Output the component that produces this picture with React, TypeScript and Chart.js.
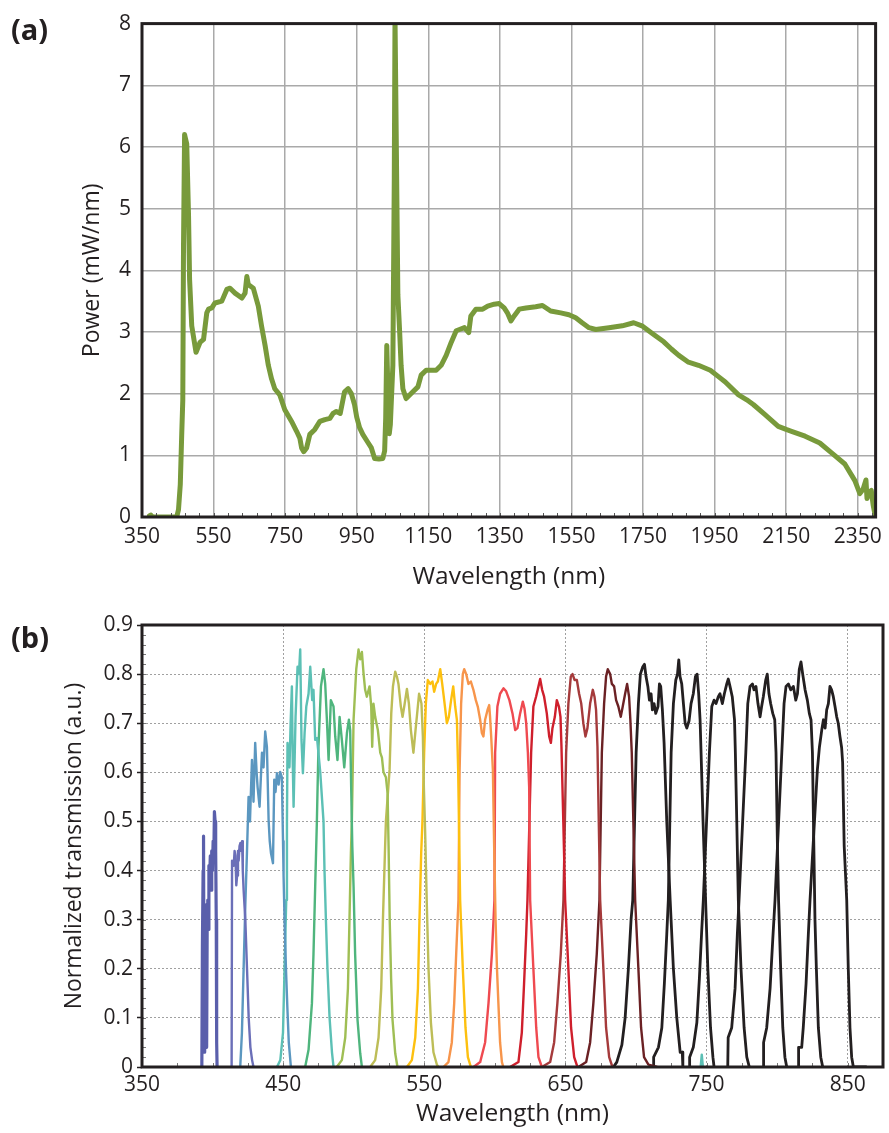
import React, { useEffect, useRef } from 'react';
import { Chart, registerables } from 'chart.js';

Chart.register(...registerables);

const FONT = '"Open Sans", Lato, sans-serif';
const INK = '#231f20';

// ---------------- Panel (a): power spectrum ----------------
const powerWavelengthNm = [
  371, 375, 380, 400, 430, 447, 452, 457, 461, 464, 466, 469, 471, 475, 480, 483, 489, 501, 512, 522,
  531, 536, 545, 554, 573, 587, 596, 610, 629, 638, 643, 647, 661, 675, 684, 694, 703, 712, 721, 735,
  749, 768, 782, 791, 796, 802, 810, 819, 833, 847, 861, 875, 884, 893, 904, 916, 926, 935, 944, 950,
  958, 967, 980, 991, 1000, 1012, 1023, 1028, 1031, 1034, 1037, 1041, 1044, 1051, 1055, 1057, 1059, 1065,
  1070, 1074, 1079, 1088, 1107, 1121, 1130, 1144, 1172, 1186, 1200, 1214, 1228, 1237, 1251, 1263, 1269,
  1283, 1302, 1316, 1334, 1348, 1362, 1371, 1381, 1390, 1404, 1423, 1450, 1469, 1492, 1520, 1543, 1562,
  1580, 1599, 1618, 1655, 1692, 1724, 1747, 1775, 1808, 1830, 1850, 1877, 1905, 1938, 1960, 1980, 2017,
  2040, 2059, 2091, 2128, 2150, 2165, 2203, 2244, 2277, 2314, 2342, 2356, 2365, 2373, 2376, 2381, 2388,
  2393, 2398,
];
const powerMwPerNm = [
  0.02, 0.03, 0.0, 0.0, 0.0, 0.0, 0.12, 0.53, 1.34, 1.9, 4.4, 6.2, 6.15, 6.05, 4.9, 3.85, 3.1, 2.67, 2.83, 2.88,
  3.31, 3.37, 3.39, 3.47, 3.5, 3.69, 3.71, 3.63, 3.55, 3.63, 3.9, 3.77, 3.71, 3.42, 3.1, 2.78, 2.46, 2.24, 2.08, 1.98,
  1.74, 1.55, 1.39, 1.28, 1.12, 1.06, 1.12, 1.34, 1.42, 1.55, 1.58, 1.6, 1.68, 1.71, 1.68, 2.03, 2.08, 2.0, 1.82, 1.62,
  1.45, 1.34, 1.22, 1.12, 0.95, 0.94, 0.95, 1.07, 1.6, 2.78, 2.1, 1.35, 1.5, 2.46, 5.5, 8.1, 8.1, 3.6,
  3.0, 2.46, 2.08, 1.92, 2.03, 2.11, 2.3, 2.38, 2.38, 2.46, 2.62, 2.83, 3.02, 3.04, 3.07, 2.99, 3.26,
  3.37, 3.37, 3.42, 3.45, 3.46, 3.39, 3.31, 3.18, 3.26, 3.37, 3.39, 3.41, 3.43, 3.34, 3.31, 3.28, 3.23,
  3.15, 3.07, 3.04, 3.07, 3.1, 3.15, 3.1, 2.98, 2.84, 2.72, 2.62, 2.51, 2.46, 2.38, 2.28, 2.19, 1.98,
  1.9, 1.82, 1.66, 1.47, 1.42, 1.39, 1.31, 1.2, 1.04, 0.86, 0.59, 0.38, 0.45, 0.6, 0.3, 0.4, 0.43,
  0.2, 0.05,
];
const powerTicksNm = [350, 550, 750, 950, 1150, 1350, 1550, 1750, 1950, 2150, 2350];
const powerTicksY = [0, 1, 2, 3, 4, 5, 6, 7, 8];

// ---------------- Panel (b): filter transmissions ----------------
const filter01 = [[392.4,0],[392.8,0.25],[393.3,0.4],[393.6,0.47],[394.0,0.03],[394.4,0.32],[394.9,0.22],[395.4,0.33],[395.8,0.04],[396.2,0.3],[396.6,0.34],[396.9,0.28],[397.4,0.41],[397.9,0.38],[398.4,0.43],[398.9,0.36],[399.4,0.44],[399.9,0.4],[400.4,0.46],[400.9,0.43],[401.3,0.52],[401.8,0.5],[402.2,0.44],[402.6,0.3],[402.9,0.05],[403.2,0]];
const filter02 = [[413.5,0],[413.8,0.42],[415.0,0.41],[415.6,0.44],[416.2,0.43],[416.8,0.37],[417.4,0.39],[418.0,0.44],[418.5,0.42],[419.1,0.45],[419.7,0.456],[420.3,0.44],[420.9,0.46],[421.4,0.4],[422.0,0.36],[423.2,0.3],[424.4,0.2],[425.6,0.1],[426.8,0.04],[428.0,0.014],[429.0,0]];
const filter03 = [[419.6,0],[420.8,0.07],[422.0,0.2],[423.2,0.33],[424.4,0.44],[425.5,0.55],[426.5,0.5],[427.9,0.625],[429.0,0.54],[430.2,0.66],[431.2,0.6],[431.9,0.57],[433.3,0.53],[435.0,0.64],[436.1,0.61],[437.3,0.683],[438.5,0.652],[439.7,0.503],[440.5,0.46],[441.4,0.435],[442.8,0.415],[443.7,0.585],[444.6,0.56],[445.6,0.598],[446.8,0.575],[447.9,0.601],[449.1,0.59],[449.9,0.46],[450.3,0.39],[451.0,0.3],[452.0,0.2],[453.0,0.12],[454.0,0.05],[455.5,0]];
const filter04 = [[445.6,0],[448.0,0.014],[449.9,0.07],[451.0,0.2],[452.2,0.34],[452.7,0.5],[453.1,0.66],[454.5,0.61],[455.3,0.7],[456.2,0.775],[456.8,0.62],[457.4,0.53],[458.8,0.713],[460.2,0.815],[461.2,0.8],[462.1,0.85],[463.0,0.666],[464.0,0.598],[465.2,0.68],[466.4,0.734],[468.0,0.76],[469.2,0.815],[470.6,0.747],[471.5,0.768],[472.7,0.666],[474.0,0.67],[476.3,0.6],[478.6,0.5],[479.3,0.4],[480.3,0.3],[481.4,0.2],[482.9,0.1],[484.6,0.03],[485.7,0]];
const filter04Blip = [[745.8,0],[746.6,0.025],[747.4,0]];
const filter05 = [[465.6,0],[468.0,0.035],[470.4,0.13],[471.5,0.23],[472.7,0.367],[473.9,0.5],[475.0,0.65],[476.8,0.775],[478.6,0.81],[479.8,0.78],[481.0,0.707],[482.2,0.625],[483.8,0.747],[485.7,0.734],[486.9,0.673],[488.5,0.625],[490.0,0.713],[491.6,0.666],[493.3,0.61],[495.2,0.68],[496.6,0.707],[497.5,0.686],[498.2,0.57],[499.0,0.45],[499.9,0.367],[501.0,0.23],[502.7,0.096],[504.6,0.028],[505.8,0]];
const filter06 = [[488.0,0],[491.6,0.014],[494.0,0.06],[495.9,0.16],[497.0,0.3],[498.0,0.435],[498.7,0.5],[499.9,0.707],[501.8,0.81],[503.4,0.85],[504.6,0.83],[505.8,0.845],[507.0,0.8],[508.1,0.768],[509.3,0.754],[511.2,0.775],[512.4,0.734],[513.1,0.652],[514.0,0.74],[515.2,0.713],[517.1,0.686],[518.8,0.64],[520.0,0.63],[521.1,0.6],[522.8,0.59],[524.0,0.557],[524.7,0.45],[525.5,0.3],[526.5,0.18],[527.5,0.096],[529.4,0.028],[531.0,0]];
const filter07 = [[511.7,0],[515.2,0.014],[517.6,0.06],[519.5,0.16],[520.7,0.3],[522.1,0.435],[522.8,0.5],[525.4,0.605],[526.6,0.72],[527.8,0.775],[529.4,0.805],[530.6,0.795],[531.7,0.78],[533.4,0.734],[534.6,0.713],[535.8,0.734],[537.7,0.77],[539.1,0.74],[540.5,0.686],[542.3,0.64],[543.8,0.686],[545.2,0.727],[546.3,0.76],[548.0,0.74],[549.0,0.673],[549.7,0.57],[550.6,0.48],[551.8,0.33],[553.0,0.2],[554.7,0.09],[556.5,0.03],[558.9,0.005],[560.0,0]];
const filter08 = [[537.7,0],[541.2,0.014],[543.6,0.06],[545.5,0.16],[546.6,0.3],[547.8,0.435],[548.7,0.5],[549.9,0.64],[551.1,0.74],[552.5,0.788],[554.2,0.78],[555.8,0.785],[557.0,0.764],[558.4,0.78],[559.6,0.785],[561.3,0.81],[562.7,0.78],[564.1,0.747],[566.0,0.7],[567.4,0.713],[569.0,0.747],[570.5,0.775],[571.9,0.734],[573.1,0.707],[574.0,0.605],[575.4,0.34],[577.3,0.2],[579.2,0.08],[580.9,0.02],[583.0,0]];
const filter09 = [[563.6,0],[567.1,0.01],[569.5,0.05],[571.2,0.13],[572.6,0.23],[574.2,0.34],[575.0,0.6],[576.1,0.74],[577.3,0.8],[578.3,0.81],[579.7,0.8],[581.3,0.78],[583.0,0.785],[584.8,0.768],[586.5,0.747],[587.9,0.734],[589.6,0.707],[590.8,0.68],[591.9,0.673],[593.1,0.707],[594.8,0.727],[596.0,0.737],[596.6,0.713],[597.4,0.673],[598.6,0.605],[599.5,0.45],[600.5,0.3],[601.5,0.2],[602.5,0.13],[603.7,0.05],[605.0,0.01],[606.0,0]];
const filter10 = [[584.9,0],[589.6,0.01],[593.1,0.05],[595.5,0.13],[597.9,0.23],[599.7,0.34],[600.2,0.64],[601.8,0.734],[603.7,0.76],[606.1,0.771],[608.0,0.765],[610.3,0.747],[612.5,0.72],[614.4,0.686],[616.0,0.69],[617.9,0.72],[619.8,0.744],[621.0,0.73],[622.2,0.7],[623.4,0.64],[624.3,0.57],[625.0,0.34],[627.3,0.2],[629.3,0.08],[630.9,0.02],[633.3,0]];
const filter11 = [[610.8,0],[616.7,0.01],[619.1,0.07],[620.7,0.17],[622.2,0.27],[623.1,0.34],[625.7,0.64],[627.3,0.734],[629.2,0.754],[630.9,0.775],[632.1,0.79],[633.5,0.768],[634.9,0.754],[636.8,0.72],[638.5,0.673],[639.7,0.66],[640.8,0.69],[642.5,0.713],[643.9,0.747],[645.4,0.734],[646.5,0.713],[647.2,0.652],[648.5,0.5],[649.8,0.34],[652.1,0.2],[654.0,0.08],[656.2,0.02],[658.5,0]];
const filter12 = [[633.3,0],[639.2,0.01],[642.0,0.05],[644.3,0.13],[646.7,0.23],[648.6,0.34],[650.5,0.64],[652.1,0.74],[653.8,0.795],[655.0,0.8],[656.5,0.788],[658.1,0.788],[659.7,0.76],[661.2,0.74],[662.7,0.7],[664.2,0.673],[665.6,0.69],[667.5,0.74],[669.4,0.768],[670.6,0.754],[671.7,0.727],[672.7,0.652],[674.6,0.34],[676.9,0.2],[678.8,0.08],[681.0,0.02],[683.3,0]];
const filter13 = [[659.2,0],[664.7,0.01],[667.5,0.05],[669.8,0.13],[672.2,0.23],[674.1,0.34],[675.8,0.64],[677.4,0.74],[678.8,0.795],[680.0,0.81],[681.7,0.8],[682.9,0.78],[684.5,0.775],[685.9,0.747],[687.5,0.734],[689.2,0.713],[690.6,0.734],[692.3,0.76],[693.7,0.78],[695.1,0.754],[696.0,0.707],[697.0,0.64],[699.4,0.34],[701.7,0.2],[703.6,0.08],[705.7,0.02],[708.8,0.005],[715.0,0]];
const filter14 = [[684.0,0],[686.4,0.01],[690.0,0.045],[692.3,0.1],[694.6,0.2],[696.5,0.3],[697.7,0.34],[700.1,0.64],[701.7,0.74],[703.1,0.8],[704.8,0.815],[706.0,0.82],[707.1,0.795],[708.4,0.775],[709.5,0.747],[710.7,0.76],[711.6,0.727],[712.8,0.74],[714.0,0.72],[715.6,0.734],[716.6,0.78],[717.5,0.775],[718.7,0.727],[719.9,0.66],[721.8,0.5],[724.2,0.34],[726.5,0.2],[728.9,0.1],[731.3,0.03],[732.8,0.03],[733.2,0]];
const filter15 = [[712.3,0],[712.5,0.02],[715.9,0.04],[718.3,0.08],[720.1,0.17],[721.8,0.27],[722.9,0.34],[724.9,0.64],[726.5,0.74],[728.2,0.788],[729.4,0.8],[730.3,0.829],[731.2,0.795],[732.4,0.78],[733.6,0.74],[734.8,0.7],[736.0,0.69],[737.6,0.705],[739.0,0.74],[740.6,0.76],[742.1,0.795],[743.3,0.8],[744.4,0.76],[745.4,0.707],[746.1,0.64],[747.5,0.5],[749.3,0.34],[750.9,0.2],[752.8,0.08],[754.5,0.02],[755.3,0]];
const filter16 = [[737.8,0],[738.0,0.02],[740.6,0.04],[743.1,0.09],[744.9,0.18],[746.6,0.28],[747.7,0.34],[752.0,0.64],[753.7,0.734],[755.3,0.747],[756.7,0.74],[758.3,0.754],[759.5,0.76],[761.2,0.74],[762.6,0.76],[764.3,0.78],[765.4,0.79],[766.6,0.775],[768.2,0.754],[769.8,0.707],[770.4,0.64],[771.4,0.5],[772.5,0.34],[774.4,0.2],[776.6,0.08],[778.5,0.02],[780.3,0]];
const filter17 = [[765.0,0],[765.3,0.06],[767.8,0.08],[770.2,0.16],[771.8,0.27],[773.0,0.34],[777.8,0.64],[779.2,0.74],[780.8,0.775],[782.5,0.78],[783.6,0.768],[785.0,0.775],[786.4,0.74],[787.9,0.713],[789.0,0.734],[790.2,0.754],[791.9,0.788],[793.0,0.8],[794.2,0.76],[795.4,0.74],[796.9,0.72],[798.3,0.707],[799.2,0.64],[800.2,0.45],[801.0,0.34],[802.5,0.2],[804.0,0.08],[805.5,0.02],[806.8,0]];
const filter18 = [[790.2,0],[790.4,0.05],[792.6,0.08],[795.0,0.16],[796.9,0.26],[798.5,0.34],[803.3,0.64],[804.9,0.74],[806.3,0.775],[808.0,0.78],[809.6,0.768],[811.5,0.775],[813.2,0.747],[814.4,0.76],[815.7,0.81],[816.9,0.825],[818.1,0.8],[819.8,0.768],[821.4,0.747],[822.8,0.72],[824.0,0.707],[825.0,0.64],[826.0,0.45],[826.8,0.3],[827.8,0.2],[829.2,0.08],[830.9,0.02],[832.3,0]];
const filter19 = [[815.0,0],[815.2,0.04],[817.4,0.04],[818.5,0.08],[820.5,0.17],[822.1,0.27],[823.3,0.34],[828.5,0.605],[829.9,0.65],[831.6,0.686],[832.8,0.707],[834.0,0.69],[835.1,0.727],[836.3,0.74],[837.4,0.775],[838.6,0.768],[839.8,0.754],[841.0,0.734],[842.2,0.713],[843.3,0.7],[844.5,0.673],[845.7,0.65],[846.4,0.62],[847.5,0.45],[849.3,0.34],[850.4,0.2],[851.6,0.08],[852.8,0.02],[854.0,0],[863.5,0]];

const filterSeries = [
  filter01, filter02, filter03, filter04, filter05, filter06, filter07, filter08, filter09, filter10,
  filter11, filter12, filter13, filter14, filter15, filter16, filter17, filter18, filter19, filter04Blip,
];
const filterColors = [
  '#5a5fab', '#6b6fb8', '#5b97c0', '#5cc0b5', '#4fb57d', '#9fbe54', '#bdbd57', '#fdc00f', '#f7954b', '#ef4a50',
  '#cf1f2c', '#a53a3b', '#6b2124', '#231f20', '#231f20', '#231f20', '#231f20', '#231f20', '#231f20', '#5cc0b5',
];
const filterWidths = [3.2, 2.4, 2.4, 2.4, 2.4, 2.4, 2.4, 2.4, 2.4, 2.4, 2.4, 2.4, 2.4, 2.8, 2.8, 2.8, 2.8, 2.8, 2.8, 2.4];
const transmissionTicksNm = [350, 450, 550, 650, 750, 850];
const transmissionTicksY = [0, 0.1, 0.2, 0.3, 0.4, 0.5, 0.6, 0.7, 0.8, 0.9];

// ---------------- shared helpers ----------------
const panelFramePlugin = {
  id: 'panelFrame',
  afterDraw(chart: any, _args: any, opts: any) {
    const { ctx, chartArea, scales } = chart;
    const { left, top, right, bottom } = chartArea;
    ctx.save();
    ctx.strokeStyle = opts.minorColor;
    ctx.lineWidth = 1;
    if (opts.xMinor) {
      const xs = scales.x;
      for (let v = xs.min; v <= xs.max + 1e-6; v += opts.xMinor) {
        const px = Math.round(xs.getPixelForValue(v)) + 0.5;
        ctx.beginPath();
        ctx.moveTo(px, bottom);
        ctx.lineTo(px, bottom - opts.minorLen);
        ctx.stroke();
      }
    }
    if (opts.yMinor) {
      const ys = scales.y;
      for (let v = ys.min; v <= ys.max + 1e-6; v += opts.yMinor) {
        const py = Math.round(ys.getPixelForValue(v)) + 0.5;
        ctx.beginPath();
        ctx.moveTo(left, py);
        ctx.lineTo(left + opts.minorLen, py);
        ctx.stroke();
      }
    }
    ctx.strokeStyle = INK;
    ctx.lineWidth = opts.frameWidth;
    ctx.strokeRect(left, top, right - left, bottom - top);
    ctx.restore();
  },
};

const tickFont = { family: FONT, size: 21 };
const xTitleFont = { family: FONT, size: 24.5 };
const yTitleFont = { family: FONT, size: 23 };

function useChart(ref: React.RefObject<HTMLCanvasElement>, makeConfig: () => any) {
  useEffect(() => {
    if (!ref.current) return;
    const chart = new Chart(ref.current, makeConfig());
    return () => chart.destroy();
  }, []);
}

function powerConfig() {
  return {
    type: 'line',
    data: {
      datasets: [
        {
          data: powerWavelengthNm.map((x, i) => ({ x, y: powerMwPerNm[i] })),
          borderColor: '#789a3b',
          borderWidth: 5,
          pointRadius: 0,
          tension: 0,
          fill: false,
          borderJoinStyle: 'round',
          borderCapStyle: 'round',
        },
      ],
    },
    options: {
      responsive: false,
      animation: false,
      events: [],
      layout: { padding: { top: 17, right: 11, bottom: 0, left: 0 } },
      plugins: {
        legend: { display: false },
        tooltip: { enabled: false },
        panelFrame: { xMinor: 40, yMinor: 0, minorLen: 4, minorColor: '#555', frameWidth: 3 },
      },
      scales: {
        x: {
          type: 'linear',
          min: 350,
          max: 2400,
          afterBuildTicks: (s: any) => { s.ticks = powerTicksNm.map((v) => ({ value: v })); },
          afterFit: (s: any) => { s.height = 83; },
          grid: { color: '#a9a9a9', lineWidth: 1.5, drawTicks: false },
          border: { display: false },
          ticks: { font: tickFont, color: INK, padding: 7, autoSkip: false, maxRotation: 0, callback: (v: any) => String(v) },
          title: { display: true, text: 'Wavelength (nm)', font: xTitleFont, color: INK, padding: { top: 0, bottom: 8 } },
        },
        y: {
          type: 'linear',
          min: 0,
          max: 8,
          afterBuildTicks: (s: any) => { s.ticks = powerTicksY.map((v) => ({ value: v })); },
          afterFit: (s: any) => { s.width = 142; },
          grid: { color: '#a9a9a9', lineWidth: 1.5, drawTicks: false },
          border: { display: false },
          ticks: { font: tickFont, color: INK, padding: 11, callback: (v: any) => String(v) },
          title: { display: true, text: 'Power (mW/nm)', font: yTitleFont, color: INK, padding: { top: 79, bottom: 0 } },
        },
      },
    },
    plugins: [panelFramePlugin],
  };
}

function transmissionConfig() {
  return {
    type: 'line',
    data: {
      datasets: filterSeries.map((series, i) => ({
        data: series.map(([x, y]) => ({ x, y })),
        borderColor: filterColors[i],
        borderWidth: filterWidths[i],
        pointRadius: 0,
        tension: 0,
        fill: false,
        borderJoinStyle: 'round',
      })),
    },
    options: {
      responsive: false,
      animation: false,
      events: [],
      layout: { padding: { top: 25, right: 6, bottom: 0, left: 0 } },
      plugins: {
        legend: { display: false },
        tooltip: { enabled: false },
        panelFrame: { xMinor: 25, yMinor: 0.02, minorLen: 4, minorColor: '#777', frameWidth: 3 },
      },
      scales: {
        x: {
          type: 'linear',
          min: 350,
          max: 875,
          afterBuildTicks: (s: any) => { s.ticks = transmissionTicksNm.map((v) => ({ value: v })); },
          afterFit: (s: any) => { s.height = 66; },
          grid: { color: '#a0a0a0', lineWidth: 1, drawTicks: false },
          border: { display: false, dash: [2, 2] },
          ticks: { font: tickFont, color: INK, padding: 5, autoSkip: false, maxRotation: 0, callback: (v: any) => String(v) },
          title: { display: true, text: 'Wavelength (nm)', font: xTitleFont, color: INK, padding: { top: 0, bottom: 4 } },
        },
        y: {
          type: 'linear',
          min: 0,
          max: 0.9,
          afterBuildTicks: (s: any) => { s.ticks = transmissionTicksY.map((v) => ({ value: v })); },
          afterFit: (s: any) => { s.width = 142; },
          grid: { color: '#a0a0a0', lineWidth: 1, drawTicks: true, tickLength: 5, tickColor: INK, tickWidth: 1.5 },
          border: { display: false, dash: [2, 2] },
          ticks: { font: tickFont, color: INK, padding: 4, callback: (v: any) => String(v) },
          title: { display: true, text: 'Normalized transmission (a.u.)', font: yTitleFont, color: INK, padding: { top: 61, bottom: 0 } },
        },
      },
    },
    plugins: [panelFramePlugin],
  };
}

const panelLabel: React.CSSProperties = {
  position: 'absolute',
  left: 11,
  fontFamily: FONT,
  fontWeight: 700,
  fontSize: 29,
  lineHeight: '29px',
  color: INK,
};

export default function App() {
  const powerRef = useRef<HTMLCanvasElement>(null);
  const transRef = useRef<HTMLCanvasElement>(null);
  useChart(powerRef, powerConfig);
  useChart(transRef, transmissionConfig);
  return (
    <div style={{ position: 'absolute', left: 0, top: 0, width: 889, height: 1133, background: '#fff' }}>
      <canvas ref={powerRef} width={889} height={600} style={{ position: 'absolute', left: 0, top: 0, display: 'block' }} />
      <canvas ref={transRef} width={889} height={533} style={{ position: 'absolute', left: 0, top: 600, display: 'block' }} />
      <div style={{ ...panelLabel, top: 14 }}>(a)</div>
      <div style={{ ...panelLabel, top: 622 }}>(b)</div>
    </div>
  );
}
